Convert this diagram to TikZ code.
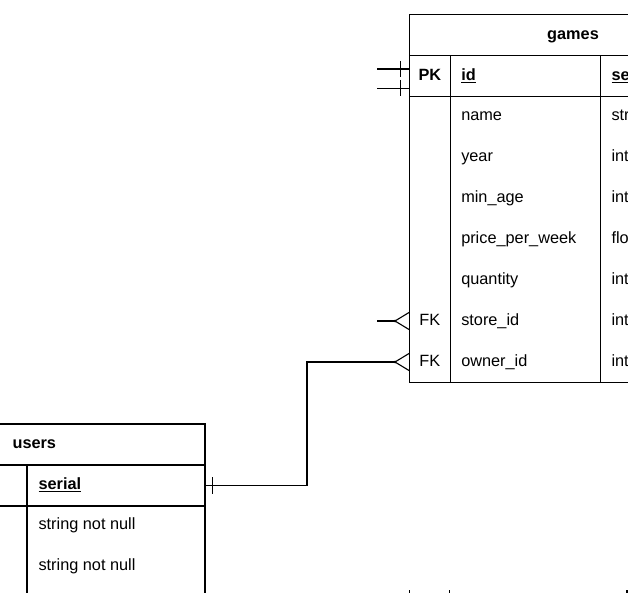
\documentclass[tikz,border=0pt]{standalone}
\usepackage{fontspec}
\setmainfont{Liberation Sans}
\usetikzlibrary{positioning}

\begin{document}
\begin{tikzpicture}[
            x=1pt, y=-1pt,
            line width=1.1pt,
            cell/.style={rectangle, draw, inner sep=0pt, outer sep=0pt, anchor=north west},
            txt/.style={inner sep=0pt, anchor=west, text height=12pt, text depth=3.5pt, font=\fontsize{16.3}{19}\selectfont},
            bold/.style={txt, font=\fontsize{16.3}{19}\selectfont\bfseries}
        ]

        \clip (0,0) rectangle (628,593);

        % games table
        \node[cell, minimum width=327pt, minimum height=40.8pt] (gamesHead) at (409.5,14.5) {};
        \node[cell, minimum width=40.8pt, minimum height=41.4pt] (gamesPK) at (gamesHead.south west) {};
        \node[cell, minimum width=150.4pt, minimum height=41.4pt] (gamesId) at (gamesPK.north east) {};
        \node[cell, minimum width=135.8pt, minimum height=41.4pt] (gamesIdType) at (gamesId.north east) {};
        \node[cell, minimum width=40.8pt, minimum height=286pt] (gamesKeys) at (gamesPK.south west) {};
        \node[cell, minimum width=150.4pt, minimum height=286pt] (gamesCols) at (gamesKeys.north east) {};
        \node[cell, minimum width=135.8pt, minimum height=286pt] (gamesTypes) at (gamesCols.north east) {};

        \node[bold, anchor=center] (gamesTitle) at (gamesHead.center) {games};
        \node[bold, anchor=center] (pk) at (gamesPK.center) {PK};
        \node[bold] (gid) at (460.7,76) {\underline{id}};
        \node[bold] (gidType) at (611,76) {\underline{serial}};

        \foreach \col/\typ [count=\i] in {name/string not null, year/integer not null, min\_age/integer not null, price\_per\_week/float not null, quantity/integer not null, store\_id/integer not null, owner\_id/integer not null}
            {
            \node[txt] (gname\i) at (460.7,75+41*\i) {\col};
            \node[txt] (gtype\i) at (611,75+41*\i) {\typ};
            }

        \node[txt, anchor=center] (fkStore) at (gamesPK.center |- gname6) {FK};
        \node[txt, anchor=center] (fkOwner) at (gamesPK.center |- gname7) {FK};

        % users table
        \node[cell, minimum width=215pt, minimum height=41pt] (usersHead) at (-10,424) {};
        \node[cell, minimum width=37pt, minimum height=41pt] (usersKey) at (usersHead.south west) {};
        \node[cell, minimum width=178pt, minimum height=41pt] (usersSerial) at (usersKey.north east) {};
        \node[cell, minimum width=37pt, minimum height=100pt] (usersKeys) at (usersKey.south west) {};
        \node[cell, minimum width=178pt, minimum height=100pt] (usersCols) at (usersKeys.north east) {};

        \node[bold] (usersTitle) at (12,444) {users};
        \node[bold] (userSerial) at (38,485.5) {\underline{serial}};
        \node[txt] (userName) at (38,525) {string not null};
        \node[txt] (userMail) at (38,566) {string not null};

        % links
        \coordinate (storeIn) at (gamesKeys.west |- gname6);
        \coordinate (ownerIn) at (gamesKeys.west |- gname7);
        \coordinate (storeEnd) at (377,321);
        \coordinate (pkEndA) at (377,69);
        \coordinate (pkEndB) at (377,88.3);

        \draw (usersSerial.east) -- ++(102,0) |- ([xshift=-14.5pt]ownerIn) coordinate (ownerFoot);
        \draw (ownerFoot) -- ++(14.5,-8.8) (ownerFoot) -- ++(14.5,8.8);
        \fill (ownerFoot) circle (1.5pt);
        \draw ([xshift=7.7pt]usersSerial.east) ++(0,-8.3) -- ++(0,16.6);

        \draw (storeEnd) -- ([xshift=-14.5pt]storeIn) coordinate (storeFoot);
        \draw (storeFoot) -- ++(14.5,-8.8) (storeFoot) -- ++(14.5,8.8);
        \fill (storeFoot) circle (1.5pt);

        \draw (pkEndA) -- (gamesPK.west |- pkEndA);
        \draw (pkEndB) -- (gamesPK.west |- pkEndB);
        \draw ([xshift=-8.8pt]gamesPK.west |- pkEndA) ++(0,-8) -- ++(0,16);
        \draw ([xshift=-8.8pt]gamesPK.west |- pkEndB) ++(0,-8.5) -- ++(0,16.5);

        \foreach \x in {409.5, 449.5, 627} {\draw (\x,590) -- (\x,596);}

    \end{tikzpicture}
\end{document}
